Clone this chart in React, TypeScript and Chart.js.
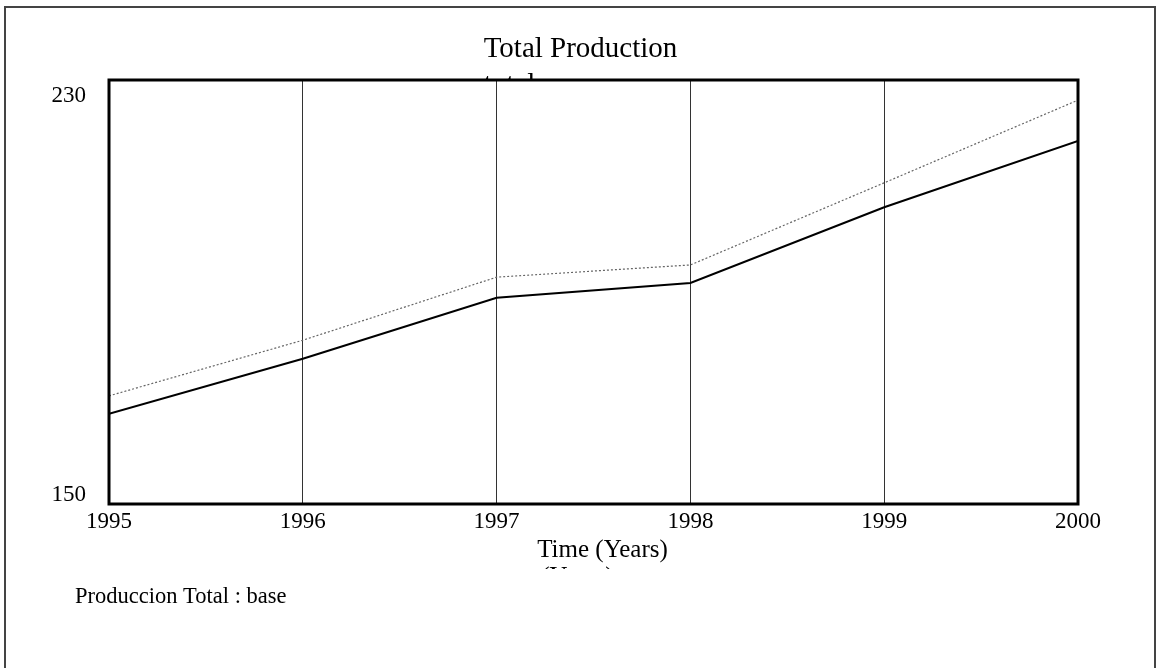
import React, { useEffect, useRef } from "react";
import { Chart, registerables } from "chart.js";

Chart.register(...registerables);

const years = [1995, 1996, 1997, 1998, 1999, 2000];
const produccionBase = [167.0, 177.4, 188.9, 191.7, 206.0, 218.5];
const produccionTotal = [170.4, 180.9, 192.8, 195.1, 210.6, 226.2];
const yTickLabels = [150, 230];
const xTickLabels = ["1995", "1996", "1997", "1998", "1999", "2000"];
const chartTitle = "Total Production";
const titleSecondLine = "total";
const xAxisTitle = "Time (Years)";
const xAxisSecondLine = "(Years)";
const legendLabel = "Produccion Total : base";

const SERIF = "'Liberation Serif', 'Times New Roman', serif";

const decorPlugin = {
  id: "decor",
  beforeDraw(chart: any) {
    const { ctx, chartArea, width, height } = chart;
    ctx.save();
    ctx.fillStyle = "#fff";
    ctx.fillRect(0, 0, width, height);
    // outer border (bottom edge lies below the visible page)
    ctx.strokeStyle = "#444";
    ctx.lineWidth = 2;
    ctx.strokeRect(5, 7, 1150, 670);

    ctx.fillStyle = "#000";
    // title
    ctx.font = `29px ${SERIF}`;
    ctx.textBaseline = "alphabetic";
    ctx.textAlign = "center";
    const tcx = width / 2 + 2;
    ctx.fillText(chartTitle, tcx, 57);
    const tw = ctx.measureText(chartTitle).width;
    ctx.save();
    ctx.beginPath();
    ctx.rect(0, 0, width, chartArea.top - 1);
    ctx.clip();
    ctx.textAlign = "left";
    ctx.fillText(titleSecondLine, tcx - tw / 2, 93);
    ctx.restore();

    // y tick labels
    const ys = chart.scales.y;
    ctx.font = `23px ${SERIF}`;
    ctx.textAlign = "right";
    const maxV = Math.max(...yTickLabels);
    const minV = Math.min(...yTickLabels);
    ctx.fillText(String(maxV), chartArea.left - 23, ys.getPixelForValue(maxV) + 22);
    ctx.fillText(String(minV), chartArea.left - 23, ys.getPixelForValue(minV) - 3);

    // x axis title
    const xc = (chartArea.left + chartArea.right) / 2 + 9;
    ctx.font = `25px ${SERIF}`;
    ctx.textAlign = "center";
    ctx.fillText(xAxisTitle, xc, 557);
    const xw = ctx.measureText(xAxisTitle).width;
    ctx.save();
    ctx.beginPath();
    ctx.rect(0, 0, width, 569);
    ctx.clip();
    ctx.textAlign = "left";
    ctx.fillText(xAxisSecondLine, xc - xw / 2 + 4, 584);
    ctx.restore();

    // legend text
    ctx.font = `22.5px ${SERIF}`;
    ctx.textAlign = "left";
    ctx.fillText(legendLabel, 75, 603);
    ctx.restore();
  },
  afterDatasetsDraw(chart: any) {
    const { ctx, chartArea } = chart;
    ctx.save();
    ctx.strokeStyle = "#000";
    ctx.lineWidth = 3;
    ctx.strokeRect(
      chartArea.left,
      chartArea.top,
      chartArea.right - chartArea.left,
      chartArea.bottom - chartArea.top
    );
    ctx.restore();
  },
};

export default function App() {
  const ref = useRef<HTMLCanvasElement | null>(null);

  useEffect(() => {
    if (!ref.current) return;
    const chart = new Chart(ref.current, {
      type: "line",
      data: {
        datasets: [
          {
            label: "total",
            data: years.map((x, i) => ({ x, y: produccionTotal[i] })),
            borderColor: "#666",
            borderWidth: 1.2,
            borderDash: [2, 2],
            pointRadius: 0,
            tension: 0,
            fill: false,
          },
          {
            label: legendLabel,
            data: years.map((x, i) => ({ x, y: produccionBase[i] })),
            borderColor: "#000",
            borderWidth: 2,
            pointRadius: 0,
            tension: 0,
            fill: false,
          },
        ],
      },
      plugins: [decorPlugin],
      options: {
        animation: false,
        responsive: false,
        layout: { padding: { top: 80, right: 79, left: 0, bottom: 0 } },
        plugins: {
          legend: { display: false },
          title: { display: false },
          tooltip: { enabled: false },
        },
        scales: {
          x: {
            type: "linear",
            min: years[0],
            max: years[years.length - 1],
            afterFit: (scale: any) => {
              scale.height = 164;
            },
            ticks: {
              stepSize: 1,
              autoSkip: false,
              padding: 4,
              color: "#000",
              font: { family: SERIF, size: 23 },
              callback: (v: any) => {
                const idx = years.indexOf(Number(v));
                return idx >= 0 ? xTickLabels[idx] : "";
              },
            },
            grid: {
              drawTicks: false,
              lineWidth: 1,
              color: (c: any) => {
                const v = c.tick ? c.tick.value : null;
                if (v === years[0] || v === years[years.length - 1]) return "rgba(0,0,0,0)";
                return "#333";
              },
            },
            border: { display: false },
          },
          y: {
            type: "linear",
            min: Math.min(...yTickLabels),
            max: Math.max(...yTickLabels),
            afterFit: (scale: any) => {
              scale.width = 109;
            },
            ticks: { display: false },
            grid: { display: false },
            border: { display: false },
          },
        },
      },
    });
    return () => chart.destroy();
  }, []);

  return (
    <div style={{ position: "fixed", left: 0, top: 0, width: 1157, height: 668, background: "#fff" }}>
      <canvas ref={ref} width={1157} height={668} style={{ display: "block" }} />
    </div>
  );
}
